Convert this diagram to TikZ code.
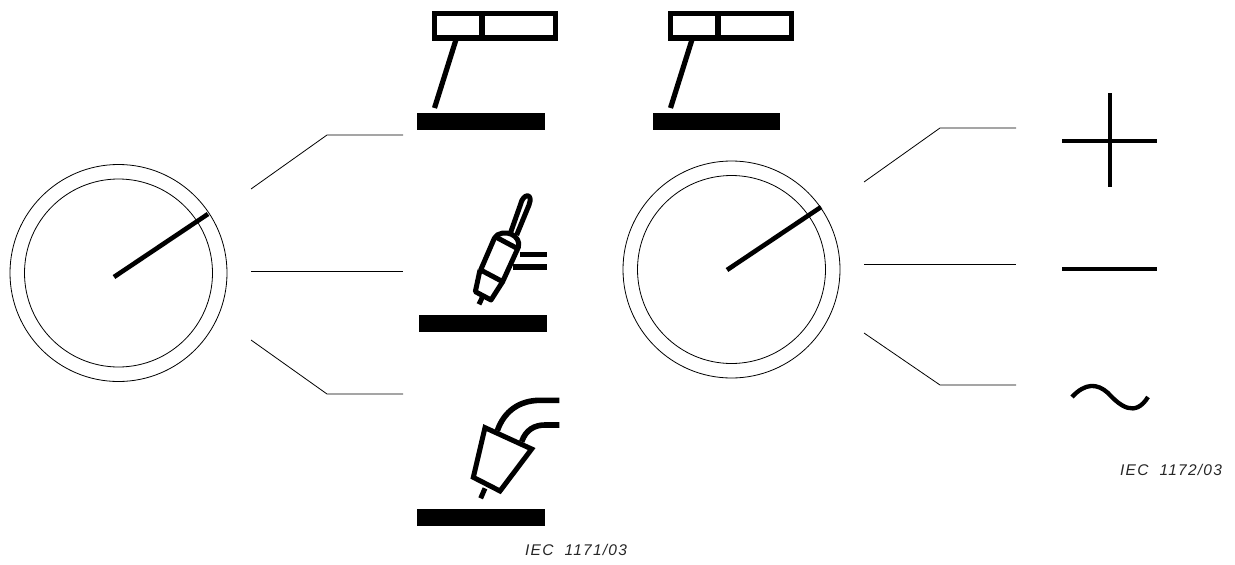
\documentclass[tikz,border=0pt]{standalone}
\usepackage{fontspec}
\setmainfont{Liberation Sans}
\tikzset{
  thin line/.style={draw=black,line width=0.8pt},
  thick sym/.style={draw=black,line width=5.2pt},
  med sym/.style={draw=black,line width=5pt,line join=round},
  hose/.style={draw=black,line width=5.6pt},
  base bar/.style={fill=black,draw=none},
  needle/.style={draw=black,line width=4.6pt},
  elec/.style={draw=black,line width=4.3pt},
  iec/.style={font=\itshape\fontsize{15.5}{17}\selectfont\addfontfeature{LetterSpace=8},text=black!85,inner sep=0pt}
}
\begin{document}
\begin{tikzpicture}[x=1pt,y=-1pt]
\useasboundingbox (0,0) rectangle (1235,565);
% left dial
\coordinate (lc) at (118.5,273);
\draw[thin line] (lc) circle[radius=108.5];
\draw[thin line] (lc) circle[radius=94];
\draw[needle] (114,277) -- (208,214);
\draw[thin line] (251,189) -- (327,135) -- (403,135);
\draw[thin line] (251,271) -- (403,271);
\draw[thin line] (251,340) -- (327,394) -- (403,394);
% right dial
\coordinate (rc) at (731.5,269.5);
\draw[thin line] (rc) circle[radius=108.5];
\draw[thin line] (rc) circle[radius=94];
\draw[needle] (727,270) -- (821,207);
\draw[thin line] (864,182) -- (940,128) -- (1016,128);
\draw[thin line] (864,264) -- (1016,264);
\draw[thin line] (864,333) -- (940,385) -- (1016,385);
% symbol 1
\draw[thick sym] (434.5,13.5) rectangle (555.5,38);
\draw[thick sym] (482,13.5) -- (482,38);
\draw[thick sym] (456.5,38) -- (434.5,108);
\fill[base bar] (417,113) rectangle (545,129.5);
% symbol 1 copy
\draw[thick sym] (670.5,13.5) rectangle (791.5,38);
\draw[thick sym] (718,13.5) -- (718,38);
\draw[thick sym] (692.5,38) -- (670.5,108);
\fill[base bar] (652.5,113) rectangle (780,129.5);
% torch
\begin{scope}[shift={(465,190)},x=0.3333pt,y=-0.3333pt]
\draw[hose] (165,194) -- (247,194);
\draw[hose] (145,231) -- (247,231);
\draw[med sym] (52,322) -- (42,343);
\draw[med sym] (45,240) -- (31,305) -- (78,330) -- (113,275);
\draw[med sym] (47,240) -- (88,145) .. controls (95,128) and (125,125) .. (140,133) .. controls (155,140) and (165,155) .. (160,172) -- (113,275) -- cycle;
\draw[med sym] (96,143) -- (158,176);
\draw[med sym] (136,130) -- (166,45) .. controls (174,8) and (206,8) .. (192,45) -- (155,135);
\end{scope}
\fill[base bar] (419,315) rectangle (547,332);
% third
\begin{scope}[shift={(465,390)},x=0.3333pt,y=-0.3333pt]
\draw[hose] (97,122) .. controls (118,62) and (165,31) .. (225,31) -- (283,31);
\draw[hose] (170,155) .. controls (183,118) and (210,105) .. (240,105) -- (283,105);
\draw[med sym,line join=miter] (60,113) -- (200,177) -- (105,303) -- (25,262) -- cycle;
\draw[med sym] (60,295) -- (47,325);
\end{scope}
\fill[base bar] (417,509) rectangle (545,526);
% cross, line, tilde
\draw[elec] (1110,93) -- (1110,187);
\draw[elec] (1062,141) -- (1157,141);
\draw[elec] (1062,269) -- (1157,269);
\draw[elec] (1072,397) .. controls (1085,383) and (1097,383) .. (1108,393) .. controls (1120,406) and (1135,418) .. (1148,397);
\node[iec,anchor=west] (t1) at (525,550) {IEC\ \ 1171/03};
\node[iec,anchor=west] (t2) at (1120,470) {IEC\ \ 1172/03};
\end{tikzpicture}
\end{document}
